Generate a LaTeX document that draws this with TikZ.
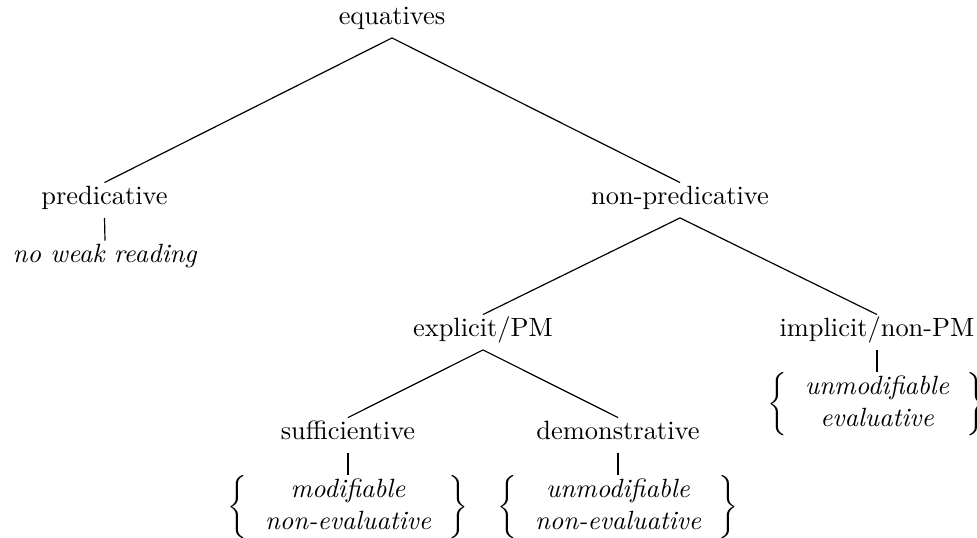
\documentclass[tikz,border=0pt]{standalone}
\usepackage{amsmath}
\begin{document}
\begin{tikzpicture}[x=0.37879pt,y=-0.37879pt,
  tn/.style={anchor=base,inner xsep=0pt,inner ysep=0pt,text height=8.3pt,text depth=4.7pt},
  blk/.style={anchor=north,inner sep=0pt},
  edge/.style={line width=0.45pt}]
\useasboundingbox (0,0) rectangle (977,538);
\newcommand{\bracedpair}[2]{$\left\{\begin{array}{@{\hspace{6.6pt}}c@{\hspace{6.6pt}}}\textit{#1}\\\textit{#2}\end{array}\right\}$}
\node[tn] (eq) at (392,25) {equatives};
\node[tn] (pred) at (104.5,205) {predicative};
\node[tn] (nopred) at (680,205) {non-predicative};
\node[tn] (weak) at (105,263) {\textit{no weak reading}};
\node[tn] (expl) at (483,337) {explicit/PM};
\node[tn] (impl) at (877,337) {implicit/non-PM};
\node[tn] (suff) at (348,440) {sufficientive};
\node[tn] (dem) at (618,440) {demonstrative};
\node[blk] (suffb) at (348,475) {\bracedpair{modifiable}{non-evaluative}};
\node[blk] (demb) at (618,475) {\bracedpair{unmodifiable}{non-evaluative}};
\node[blk] (implb) at (877,372) {\bracedpair{unmodifiable}{evaluative}};
\draw[edge] (eq.south) -- (pred.north);
\draw[edge] (eq.south) -- (nopred.north);
\draw[edge] (pred.south) -- (weak.north);
\draw[edge] (nopred.south) -- (expl.north);
\draw[edge] (nopred.south) -- (impl.north);
\draw[edge] (expl.south) -- (suff.north);
\draw[edge] (expl.south) -- (dem.north);
\draw[edge] (suff.south) -- (suffb.north);
\draw[edge] (dem.south) -- (demb.north);
\draw[edge] (impl.south) -- (implb.north);
\end{tikzpicture}
\end{document}
